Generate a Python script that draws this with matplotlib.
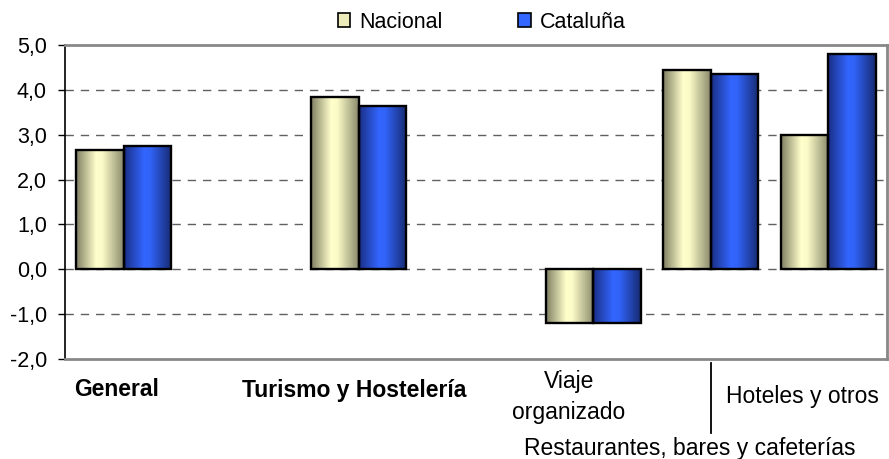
import numpy as np
import matplotlib
matplotlib.use("Agg")
import matplotlib.pyplot as plt
from matplotlib.colors import LinearSegmentedColormap
from matplotlib.patches import Patch
from matplotlib.lines import Line2D
from matplotlib.transforms import blended_transform_factory

plt.rcParams['font.family'] = ['Liberation Sans', 'DejaVu Sans']

# ---- data ----
categories = ['General', '', 'Turismo y Hostelería', '', 'Viaje\norganizado',
              'Restaurantes, bares y cafeterías', 'Hoteles y otros']
nacional = [2.65, np.nan, 3.85, np.nan, -1.2, 4.45, 3.0]
cataluna = [2.75, np.nan, 3.65, np.nan, -1.2, 4.35, 4.8]
series_names = ['Nacional', 'Cataluña']
yticks = [-2, -1, 0, 1, 2, 3, 4, 5]
ytick_labels = ['-2,0', '-1,0', '0,0', '1,0', '2,0', '3,0', '4,0', '5,0']

W, H = 889, 459
fig = plt.figure(figsize=(W / 100, H / 100), dpi=100)
ax = fig.add_axes([65 / W, 1 - 359 / H, (887 - 65) / W, (359 - 45) / H])

x = np.arange(len(categories))
bw = 0.405

cmap_nac = LinearSegmentedColormap.from_list(
    'nac', [(0, '#7f7f62'), (0.42, '#ffffcc'), (0.55, '#fbfbc8'), (1, '#8a8a6c')])
cmap_cat = LinearSegmentedColormap.from_list(
    'cat', [(0, '#1a2f86'), (0.42, '#3366ff'), (0.55, '#3163f7'), (1, '#172a70')])

grad = np.linspace(0, 1, 256).reshape(1, -1)

def draw(vals, offset, cmap):
    v = np.array(vals, dtype=float)
    mask = ~np.isnan(v)
    bars = ax.bar(x[mask] + offset, v[mask], bw, facecolor='none',
                  edgecolor='black', linewidth=1.7, zorder=4)
    for r in bars:
        x0 = r.get_x()
        x1 = x0 + r.get_width()
        y0 = min(r.get_y(), r.get_y() + r.get_height())
        y1 = max(r.get_y(), r.get_y() + r.get_height())
        ax.imshow(grad, extent=[x0, x1, y0, y1], cmap=cmap, aspect='auto',
                  interpolation='bilinear', zorder=3)
    return bars

draw(nacional, -bw / 2, cmap_nac)
draw(cataluna, bw / 2, cmap_cat)

ax.set_xlim(-0.5, len(categories) - 0.5)
ax.set_ylim(-2, 5)
ax.set_yticks(yticks)
ax.set_yticklabels(ytick_labels, fontsize=15.5)
ax.set_xticks([])
ax.tick_params(axis='y', direction='out', length=5, width=1, color='black', pad=8)

for yv in yticks[1:-1]:
    ax.axhline(yv, color='#606060', lw=1.0, ls=(0, (6, 5)), zorder=1)

for s in ['top', 'right', 'bottom']:
    ax.spines[s].set_color('#888888')
    ax.spines[s].set_linewidth(2)
ax.spines['left'].set_color('black')
ax.spines['left'].set_linewidth(1.2)

# category labels
tr = blended_transform_factory(ax.transData, fig.transFigure)
def fy(py):
    return 1 - py / H

lab_fs = 16.5
ax.text(x[0] - 0.06, fy(390), categories[0], transform=tr, ha='center', va='center',
        fontsize=lab_fs, fontweight='bold', clip_on=False)
ax.text(x[2] - 0.04, fy(390), categories[2], transform=tr, ha='center', va='center',
        fontsize=lab_fs, fontweight='bold', clip_on=False)
ax.text(x[4] - 0.21, fy(397), categories[4], transform=tr, ha='center', va='center',
        fontsize=lab_fs, linespacing=1.4, clip_on=False)
ax.text(x[5] - 0.18, fy(449), categories[5], transform=tr, ha='center', va='center',
        fontsize=lab_fs, clip_on=False)
ax.text(x[6] - 0.22, fy(396), categories[6], transform=tr, ha='center', va='center',
        fontsize=lab_fs, clip_on=False)
ax.add_line(Line2D([x[5], x[5]], [fy(363), fy(433)], transform=tr, color='black',
                   lw=1.3, clip_on=False))

handles = [Patch(facecolor='#ececbb', edgecolor='black', lw=1.2),
           Patch(facecolor='#3366ff', edgecolor='black', lw=1.2)]
fig.legend(handles, series_names, loc='center', bbox_to_anchor=(482 / W, 1 - 22 / H),
           ncol=2, frameon=False, fontsize=15.5, handlelength=0.58, handleheight=0.58,
           handletextpad=0.43, columnspacing=3.5, borderaxespad=0)

fig.savefig('out.png', dpi=100)
